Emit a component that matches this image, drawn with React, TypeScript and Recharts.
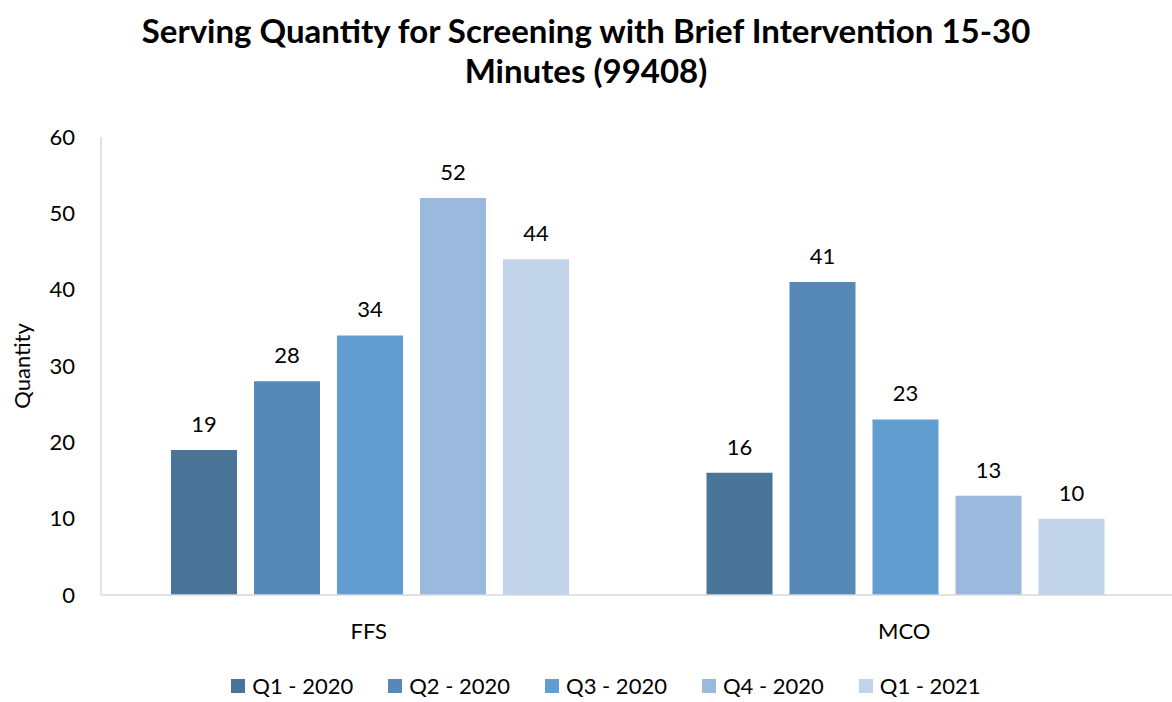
import React from 'react';
import { BarChart, Bar, XAxis, YAxis, Legend, LabelList } from 'recharts';

const categories = ['FFS', 'MCO'];
const seriesNames = ['Q1 - 2020', 'Q2 - 2020', 'Q3 - 2020', 'Q4 - 2020', 'Q1 - 2021'];
const q1_2020 = [19, 16];
const q2_2020 = [28, 41];
const q3_2020 = [34, 23];
const q4_2020 = [52, 13];
const q1_2021 = [44, 10];
const yTicks = [0, 10, 20, 30, 40, 50, 60];
const colors = ['#4a7599', '#5689b8', '#629dd1', '#9bb9dc', '#c1d3e8'];

const seriesValues = [q1_2020, q2_2020, q3_2020, q4_2020, q1_2021];
const keys = ['s0', 's1', 's2', 's3', 's4'];
const data = categories.map((c, i) => {
  const row: any = { name: c };
  keys.forEach((k, j) => { row[k] = seriesValues[j][i]; });
  return row;
});

const FONT = 'Lato, "Open Sans", sans-serif';
const FS = 22;

const LegendContent = () => (
  <div style={{ display: 'flex', justifyContent: 'center', paddingTop: 28, paddingLeft: 40, fontFamily: FONT, fontSize: FS, lineHeight: '26px', color: '#000' }}>
    {seriesNames.map((n, i) => (
      <div key={n} style={{ display: 'flex', alignItems: 'center', marginRight: i < 4 ? 35 : 0 }}>
        <div style={{ width: 14, height: 14, background: colors[i], marginRight: 7 }} />
        <span>{n}</span>
      </div>
    ))}
  </div>
);

export default function App() {
  return (
    <div style={{ position: 'absolute', left: 0, top: 0, width: 1172, height: 702, background: '#fff' }}>
      <div style={{ position: 'absolute', left: 0, top: 10, width: 1172, textAlign: 'center', fontFamily: FONT, fontWeight: 700, fontSize: 33, lineHeight: '40px', color: '#000' }}>
        Serving Quantity for Screening with Brief Intervention 15-30<br />Minutes (99408)
      </div>
      <BarChart width={1172} height={702} data={data} margin={{ top: 137, right: 0, left: 0, bottom: 0 }} barGap={17} barCategoryGap={70}>
        <XAxis dataKey="name" axisLine={{ stroke: '#d9d9d9', strokeWidth: 1.5 }} tickLine={false} tickSize={0} tickMargin={28} height={50}
          tick={{ fontFamily: FONT, fontSize: FS, fill: '#000' }} />
        <YAxis domain={[0, 60]} ticks={yTicks} axisLine={{ stroke: '#d9d9d9', strokeWidth: 1.5 }} tickLine={false} tickSize={0} tickMargin={26} width={101}
          tick={{ fontFamily: FONT, fontSize: FS, fill: '#000' }}
          label={{ value: 'Quantity', angle: -90, position: 'insideLeft', offset: 22, style: { fontFamily: FONT, fontSize: FS, fill: '#000', textAnchor: 'middle' } }} />
        <Legend verticalAlign="bottom" height={57} content={<LegendContent />} />
        {keys.map((k, i) => (
          <Bar key={k} dataKey={k} name={seriesNames[i]} fill={colors[i]} isAnimationActive={false}>
            <LabelList dataKey={k} position="top" offset={18} style={{ fontFamily: FONT, fontSize: FS, fill: '#000' }} />
          </Bar>
        ))}
      </BarChart>
    </div>
  );
}
